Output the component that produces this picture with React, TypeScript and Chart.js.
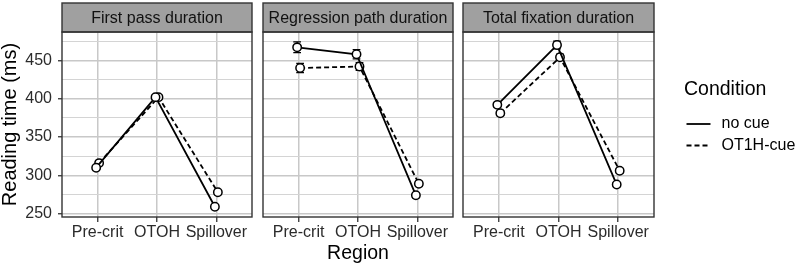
import React, { useEffect, useRef } from "react";
import { Chart, registerables } from "chart.js";

Chart.register(...registerables);

// ---- data ----
const regions = ["Pre-crit", "OTOH", "Spillover"];
const conditions = ["no cue", "OT1H-cue"];
const panelTitles = ["First pass duration", "Regression path duration", "Total fixation duration"];

// mean reading times (ms)
const firstPassNoCue = [310, 402, 259];
const firstPassCue = [316, 402, 278];
const regressionNoCue = [467, 458, 274];
const regressionCue = [440, 442, 289];
const totalNoCue = [392, 470, 288];
const totalCue = [381, 454, 306];

// standard errors (ms)
const firstPassNoCueSE = [2.5, 3, 2];
const firstPassCueSE = [2.5, 3, 2.5];
const regressionNoCueSE = [7, 6, 3];
const regressionCueSE = [6, 5, 3];
const totalNoCueSE = [3, 5, 2.5];
const totalCueSE = [3, 4, 3];

// axis ticks
const yMajorTicks = [250, 300, 350, 400, 450];
const yMinorTicks = [275, 325, 375, 425, 475];
const regionTicks = [1, 2, 3];

const Y_MIN = 245.7;
const Y_MAX = 487;
const X_MIN = 0.4;
const X_MAX = 3.6;
const DODGE = 0.025;
const CAP_WIDTH = 0.13;

const FONT = '"Liberation Sans", Arial, Helvetica, sans-serif';
const INK = "#000000";
const TICK_TEXT = "#2b2b2b";
const GRID_MAJOR = "#c8c8c8";
const GRID_MINOR = "#d4d4d4";
const FRAME = "#333333";
const STRIP_FILL = "#a0a0a0";
const LINE_W = 1.8;
const DASH = [5, 3];

type Panel = {
  title: string;
  noCue: number[];
  cue: number[];
  noCueSE: number[];
  cueSE: number[];
  left: number;
  right: number;
  yAxis: boolean;
  xTitle: boolean;
  legend: boolean;
};

const panels: Panel[] = [
  { title: panelTitles[0], noCue: firstPassNoCue, cue: firstPassCue, noCueSE: firstPassNoCueSE, cueSE: firstPassCueSE, left: 62, right: 252, yAxis: true, xTitle: false, legend: false },
  { title: panelTitles[1], noCue: regressionNoCue, cue: regressionCue, noCueSE: regressionNoCueSE, cueSE: regressionCueSE, left: 263, right: 453, yAxis: false, xTitle: true, legend: false },
  { title: panelTitles[2], noCue: totalNoCue, cue: totalCue, noCueSE: totalNoCueSE, cueSE: totalCueSE, left: 463, right: 654, yAxis: false, xTitle: false, legend: true },
];

const W = 800;
const H = 267;
const STRIP_TOP = 3;
const PANEL_TOP = 32;
const X_AXIS_H = 50;

function panelDecor(p: Panel) {
  const errs = [p.noCueSE, p.cueSE];
  return {
    id: "panelDecor",
    beforeDatasetsDraw(chart: any) {
      const { ctx, scales } = chart;
      const x = scales.x;
      const y = scales.y;
      ctx.save();
      ctx.strokeStyle = INK;
      ctx.lineWidth = 1.3;
      ctx.setLineDash([]);
      chart.data.datasets.forEach((ds: any, di: number) => {
        ds.data.forEach((pt: any, j: number) => {
          const px = x.getPixelForValue(pt.x);
          const half = Math.abs(x.getPixelForValue(pt.x + CAP_WIDTH / 2) - px);
          const top = y.getPixelForValue(pt.y + errs[di][j]);
          const bot = y.getPixelForValue(pt.y - errs[di][j]);
          ctx.beginPath();
          ctx.moveTo(px, top);
          ctx.lineTo(px, bot);
          ctx.moveTo(px - half, top);
          ctx.lineTo(px + half, top);
          ctx.moveTo(px - half, bot);
          ctx.lineTo(px + half, bot);
          ctx.stroke();
        });
      });
      ctx.restore();
    },
    afterDraw(chart: any) {
      const { ctx, chartArea: a } = chart;
      const w = a.right - a.left;
      ctx.save();
      // facet strip
      ctx.fillStyle = STRIP_FILL;
      ctx.fillRect(a.left, STRIP_TOP, w, a.top - STRIP_TOP);
      ctx.strokeStyle = FRAME;
      ctx.lineWidth = 1.4;
      ctx.strokeRect(a.left, STRIP_TOP, w, a.top - STRIP_TOP);
      // panel frame
      ctx.strokeRect(a.left, a.top, w, a.bottom - a.top);
      ctx.fillStyle = "#111111";
      ctx.font = `16px ${FONT}`;
      ctx.textAlign = "center";
      ctx.textBaseline = "middle";
      ctx.fillText(p.title, a.left + w / 2, (STRIP_TOP + a.top) / 2 + 1);

      if (p.legend) {
        const lx = a.right + 30;
        ctx.textAlign = "left";
        ctx.fillStyle = INK;
        ctx.font = `19.5px ${FONT}`;
        ctx.fillText("Condition", lx, 90);
        const keys = [124, 145.5];
        const dashes = [[], DASH];
        ctx.font = `16px ${FONT}`;
        conditions.forEach((c, i) => {
          ctx.strokeStyle = INK;
          ctx.lineWidth = LINE_W;
          ctx.setLineDash(dashes[i]);
          ctx.beginPath();
          ctx.moveTo(lx + 2.5, keys[i]);
          ctx.lineTo(lx + 26.5, keys[i]);
          ctx.stroke();
          ctx.setLineDash([]);
          ctx.fillStyle = INK;
          ctx.fillText(c, lx + 37.5, keys[i]);
        });
      }
      ctx.restore();
    },
  };
}

function buildChart(canvas: HTMLCanvasElement, p: Panel) {
  const series = [p.noCue, p.cue];
  const datasets = series.map((vals, si) => ({
    label: conditions[si],
    data: vals.map((v, i) => ({ x: regionTicks[i] + (si === 0 ? -DODGE : DODGE), y: v })),
    borderColor: INK,
    borderWidth: LINE_W,
    borderDash: si === 0 ? [] : DASH,
    pointRadius: 4.2,
    pointHoverRadius: 4.2,
    pointBackgroundColor: "#ffffff",
    pointBorderColor: INK,
    pointBorderWidth: 1.5,
    fill: false,
    tension: 0,
  }));

  const isMajor = (v: number) => yMajorTicks.includes(v);

  return new Chart(canvas, {
    type: "line",
    data: { datasets },
    plugins: [panelDecor(p)],
    options: {
      responsive: false,
      animation: false,
      devicePixelRatio: 1,
      events: [],
      layout: {
        padding: {
          left: p.yAxis ? 0 : p.left,
          right: W - p.right,
          top: PANEL_TOP,
          bottom: 0,
        },
      },
      plugins: {
        legend: { display: false },
        tooltip: { enabled: false },
        title: { display: false },
      },
      scales: {
        x: {
          type: "linear",
          min: X_MIN,
          max: X_MAX,
          afterBuildTicks: (s: any) => {
            s.ticks = regionTicks.map((v) => ({ value: v }));
          },
          afterFit: (s: any) => {
            s.height = X_AXIS_H;
          },
          ticks: {
            autoSkip: false,
            maxRotation: 0,
            padding: 1,
            color: TICK_TEXT,
            font: { family: FONT, size: 16 },
            callback: (v: any) => regions[regionTicks.indexOf(Number(v))] ?? "",
          },
          grid: {
            color: GRID_MAJOR,
            lineWidth: 1.5,
            drawTicks: true,
            tickLength: 5,
            tickColor: FRAME,
            tickWidth: 1.3,
          },
          border: { display: false },
          title: {
            display: p.xTitle,
            text: "Region",
            color: INK,
            font: { family: FONT, size: 19.5, lineHeight: 1.2 },
            padding: { top: 0, bottom: 2 },
          },
        },
        y: {
          type: "linear",
          min: Y_MIN,
          max: Y_MAX,
          afterBuildTicks: (s: any) => {
            s.ticks = [...yMajorTicks, ...yMinorTicks].sort((a, b) => a - b).map((v) => ({ value: v }));
          },
          afterFit: (s: any) => {
            s.width = p.yAxis ? p.left : 0;
          },
          ticks: {
            display: p.yAxis,
            autoSkip: false,
            padding: 6,
            color: TICK_TEXT,
            font: { family: FONT, size: 16 },
            callback: (v: any) => (isMajor(Number(v)) ? String(v) : ""),
          },
          grid: {
            color: (ctx: any) => (isMajor(ctx.tick?.value) ? GRID_MAJOR : GRID_MINOR),
            lineWidth: (ctx: any) => (isMajor(ctx.tick?.value) ? 1.5 : 1),
            drawTicks: p.yAxis,
            tickLength: 4,
            tickColor: (ctx: any) => (isMajor(ctx.tick?.value) ? FRAME : "rgba(0,0,0,0)"),
            tickWidth: 1.3,
          },
          border: { display: false },
          title: {
            display: p.yAxis,
            text: "Reading time (ms)",
            color: INK,
            font: { family: FONT, size: 20, lineHeight: 1.05 },
            padding: { top: 0, bottom: 0 },
          },
        },
      },
    } as any,
  });
}

export default function App() {
  const refs = [useRef<HTMLCanvasElement>(null), useRef<HTMLCanvasElement>(null), useRef<HTMLCanvasElement>(null)];

  useEffect(() => {
    const charts = panels.map((p, i) => buildChart(refs[i].current as HTMLCanvasElement, p));
    return () => charts.forEach((c) => c.destroy());
  }, []);

  return (
    <div style={{ position: "absolute", left: 0, top: 0, width: W, height: H, background: "#ffffff" }}>
      {panels.map((p, i) => (
        <canvas
          key={p.title}
          ref={refs[i]}
          width={W}
          height={H}
          style={{ position: "absolute", left: 0, top: 0, width: W, height: H }}
        />
      ))}
    </div>
  );
}
